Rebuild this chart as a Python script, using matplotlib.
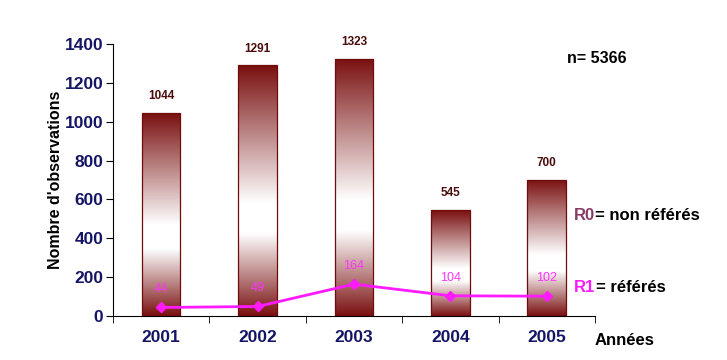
import numpy as np
import matplotlib
matplotlib.use("Agg")
import matplotlib.pyplot as plt
from matplotlib.colors import LinearSegmentedColormap

years = ["2001", "2002", "2003", "2004", "2005"]
r0_values = [1044, 1291, 1323, 545, 700]
r1_values = [44, 49, 164, 104, 102]
y_ticks = [0, 200, 400, 600, 800, 1000, 1200, 1400]

plt.rcParams['font.family'] = ['Liberation Sans', 'DejaVu Sans']

fig = plt.figure(figsize=(7.27, 3.6), dpi=100)
ax = fig.add_axes([0.1554, 0.1222, 0.663, 0.7556])

x = np.arange(len(years))
bars = ax.bar(x, r0_values, width=0.4, color='none', edgecolor='#6e0b0b', linewidth=0.9, zorder=2)

cmap = LinearSegmentedColormap.from_list(
    'grad', [(0.0, '#7a1010'), (0.33, '#ffffff'), (0.45, '#ffffff'), (1.0, '#7a1010')])
grad = np.linspace(0, 1, 256).reshape(-1, 1)
for b in bars:
    x0, w, h = b.get_x(), b.get_width(), b.get_height()
    im = ax.imshow(grad, cmap=cmap, aspect='auto', origin='lower',
                   extent=[x0, x0 + w, 0, h], zorder=1)
    im.set_clip_path(b)

ax.set_xlim(-0.5, len(years) - 0.5)
ax.set_ylim(0, 1400)

for xi, v in zip(x, r0_values):
    ax.annotate(str(v), (xi, v), xytext=(0, 12), textcoords='offset points',
                ha='center', va='center', fontsize=8.5, fontweight='bold', color='#4a0c0c')

ax.plot(x, r1_values, color='#ff1aff', linewidth=2, marker='D', markersize=5, zorder=3)
for xi, v in zip(x, r1_values):
    ax.annotate(str(v), (xi, v), xytext=(0, 13), textcoords='offset points',
                ha='center', va='center', fontsize=9, color='#ff33ff')

ax.spines['top'].set_visible(False)
ax.spines['right'].set_visible(False)
ax.set_yticks(y_ticks)
ax.set_yticklabels([str(t) for t in y_ticks], fontsize=12.5, fontweight='bold', color='#151565')
ax.set_xticks(x)
ax.set_xticklabels(years, fontsize=12.5, fontweight='bold', color='#151565')
ax.tick_params(axis='x', which='major', length=0, pad=10)
ax.set_xticks(np.arange(-0.5, len(years)), minor=True)
ax.tick_params(axis='x', which='minor', length=5, direction='out', color='black')
ax.tick_params(axis='y', length=5, direction='out', color='black', pad=2)
ax.set_ylabel("Nombre d'observations", fontsize=11.5, fontweight='bold', labelpad=1)

fig.text(0.78, 0.825, "n= 5366", fontsize=11.5, fontweight='bold', color='black')
fig.text(0.818, 0.043, "Années", fontsize=12, fontweight='bold', color='black', ha='left')

def two_part(xf, yf, a, ca, b):
    t = fig.text(xf, yf, a, fontsize=12, fontweight='bold', color=ca)
    fig.canvas.draw()
    ext = t.get_window_extent()
    fig.text(ext.x1 / fig.bbox.width, yf, b, fontsize=12, fontweight='bold', color='black')

two_part(0.79, 0.39, "R0", '#8a3a66', "= non référés")
two_part(0.79, 0.19, "R1", '#ff1aff', "= référés")

fig.savefig("out.png", dpi=100)
